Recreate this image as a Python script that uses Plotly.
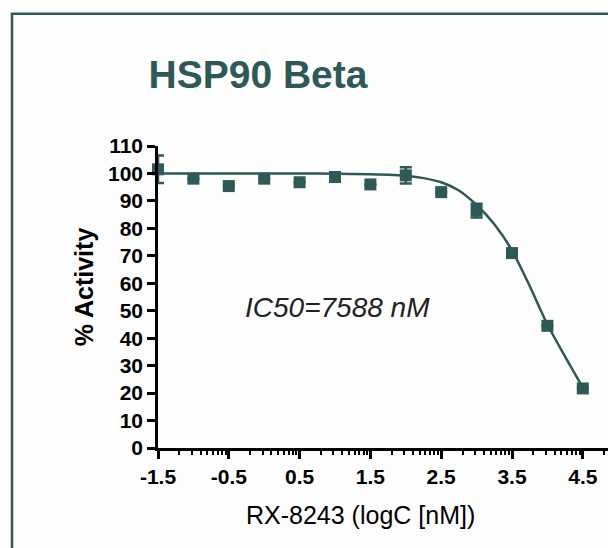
import plotly.graph_objects as go

# ---- data ----
log_conc = [-1.5, -1.0, -0.5, 0.0, 0.5, 1.0, 1.5, 2.0, 2.5, 3.0, 3.5, 4.0, 4.5]
activity = [101.5, 98.1, 95.4, 98.1, 96.8, 98.7, 96.0, 99.3, 93.2, 86.5, 71.0, 44.5, 21.7]
activity_err = [5.0, 0, 0, 0, 0, 0, 0, 3.0, 0, 2.5, 0, 0, 0]

fit_x = [-1.5, -1.0, -0.5, 0.0, 0.5, 1.0, 1.5, 2.0, 2.25, 2.5, 2.75, 3.0, 3.25, 3.5, 3.75, 4.0, 4.25, 4.5]
fit_y = [100.0, 100.0, 100.0, 100.0, 100.0, 99.9, 99.7, 99.2, 98.3, 96.8, 93.8, 88.5, 81.5, 72.0, 59.0, 45.0, 33.3, 22.0]

x_tick_vals = [-1.5, -0.5, 0.5, 1.5, 2.5, 3.5, 4.5]
x_tick_text = ["-1.5", "-0.5", "0.5", "1.5", "2.5", "3.5", "4.5"]
y_tick_vals = [0, 10, 20, 30, 40, 50, 60, 70, 80, 90, 100, 110]

title_text = "HSP90 Beta"
x_title = "RX-8243 (logC [nM])"
y_title = "% Activity"
ic50_text = "IC50=7588 nM"

# minor (log-style) tick offsets within each unit interval
minor_offsets = [0.301, 0.477, 0.602, 0.699, 0.778, 0.845, 0.903, 0.954]
minor_vals = [m + o for m in [-1.5, -0.5, 0.5, 1.5, 2.5, 3.5, 4.5] for o in minor_offsets]

TEAL = "#2d5a56"
FONT = "Liberation Sans, Arial, sans-serif"

# The page body has an 8px margin, so the figure is drawn 8px smaller and all
# reference pixel positions (page coordinates) are shifted by 8px.
OFF = 8
W, H = 616 - OFF, 548 - OFF
PLOT_LEFT, PLOT_TOP, PLOT_BOTTOM = 158, 145.5, 448   # page pixels
L = PLOT_LEFT - OFF
T = PLOT_TOP - OFF
B = H - (PLOT_BOTTOM - OFF)
R = 0
pw = W - L - R
ph = H - T - B

def px_to_paper_x(px):
    return (px - OFF - L) / pw

def px_to_paper_y(py):
    return (H - B - (py - OFF)) / ph

fig = go.Figure()

fig.add_trace(go.Scatter(
    x=fit_x, y=fit_y, mode="lines",
    line=dict(color=TEAL, width=2.5, shape="spline", smoothing=0.6),
    cliponaxis=False, hoverinfo="skip", showlegend=False,
))

fig.add_trace(go.Scatter(
    x=log_conc, y=activity, mode="markers",
    marker=dict(symbol="square", size=12, color=TEAL),
    error_y=dict(type="data", array=activity_err, visible=True,
                 color=TEAL, thickness=2.5, width=6),
    cliponaxis=False, showlegend=False,
))

fig.update_layout(
    width=W, height=H,
    margin=dict(l=L, r=R, t=T, b=B, pad=0),
    paper_bgcolor="#fdfdfd",
    plot_bgcolor="rgba(0,0,0,0)",
    font=dict(family=FONT, color="black"),
    showlegend=False,
    title=dict(
        text="<b>" + title_text + "</b>",
        font=dict(family=FONT, size=39, color=TEAL),
        x=(258 - OFF) / W, xref="container", xanchor="center",
        y=1 - (74 - OFF) / H, yref="container", yanchor="middle",
    ),
    xaxis=dict(
        range=[-1.5, -1.5 + pw / 70.8],
        showgrid=False, zeroline=False,
        showline=True, linecolor="black", linewidth=2.5,
        ticks="outside", ticklen=8, tickwidth=2.5, tickcolor="black",
        tickmode="array", tickvals=x_tick_vals, ticktext=x_tick_text,
        tickfont=dict(family=FONT, size=21, color="black", weight="bold"),
        minor=dict(tickmode="array", tickvals=minor_vals, ticks="outside",
                   ticklen=4, tickwidth=2, tickcolor="black", showgrid=False),
    ),
    yaxis=dict(
        range=[0, 110],
        showgrid=False, zeroline=False,
        showline=True, linecolor="black", linewidth=2.5,
        ticks="outside", ticklen=8, tickwidth=2.5, tickcolor="black",
        tickmode="array", tickvals=y_tick_vals,
        tickfont=dict(family=FONT, size=21, color="black", weight="bold"),
    ),
    annotations=[
        dict(text="<b>" + y_title + "</b>", textangle=-90,
             x=px_to_paper_x(84), y=px_to_paper_y(287), xref="paper", yref="paper",
             xanchor="center", yanchor="middle", showarrow=False,
             font=dict(family=FONT, size=25, color="black")),
        dict(text=x_title,
             x=px_to_paper_x(360), y=px_to_paper_y(515), xref="paper", yref="paper",
             xanchor="center", yanchor="middle", showarrow=False,
             font=dict(family=FONT, size=25, color="black")),
        dict(text="<i>" + ic50_text + "</i>",
             x=px_to_paper_x(337), y=px_to_paper_y(307), xref="paper", yref="paper",
             xanchor="center", yanchor="middle", showarrow=False,
             font=dict(family=FONT, size=28, color="#222222")),
    ],
    shapes=[
        dict(type="rect", xref="paper", yref="paper",
             x0=px_to_paper_x(12), x1=px_to_paper_x(616 + 20),
             y0=px_to_paper_y(548 + 20), y1=px_to_paper_y(13),
             line=dict(color=TEAL, width=2.5), fillcolor="rgba(0,0,0,0)", layer="below"),
    ],
)

fig.write_html("out.html")
